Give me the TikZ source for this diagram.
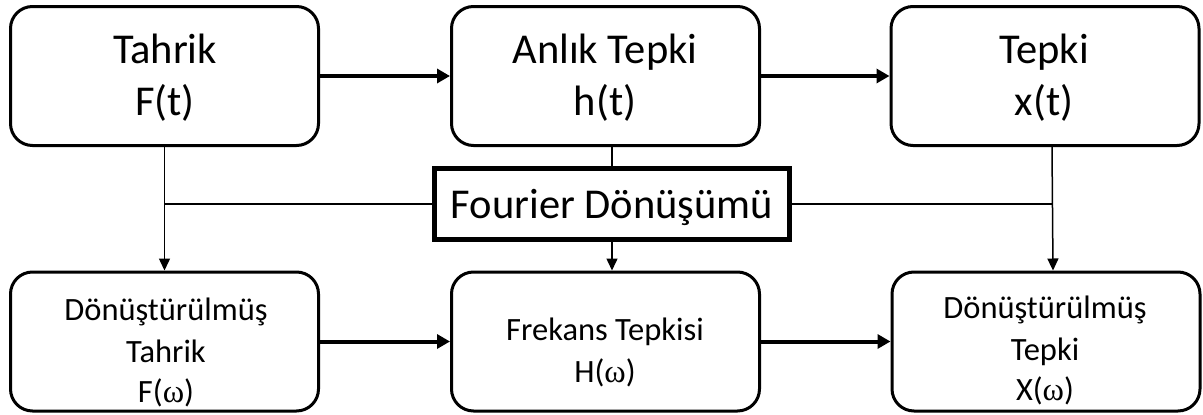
\documentclass[tikz,border=0pt]{standalone}
\usepackage{fontspec}
\setmainfont{Carlito}
\newfontfamily\omegafont{Liberation Serif}
\usetikzlibrary{arrows.meta}
\newcommand{\om}{{\omegafont\char"03C9}}
\begin{document}
\begin{tikzpicture}[x=1pt,y=-1pt,
  box/.style={draw, line width=3pt, rounded corners=22pt,
    minimum width=308pt, minimum height=139pt, inner sep=0pt},
  fbox/.style={draw, line width=5pt, minimum width=355pt,
    minimum height=71pt, inner sep=0pt},
  big/.style={font=\fontsize{42.5}{50}\selectfont, anchor=base, inner sep=0pt},
  small/.style={font=\fontsize{32.5}{39}\selectfont, anchor=base, inner sep=0pt},
  flow/.style={line width=4pt, -{Triangle[length=13pt,width=14pt]}},
  link/.style={line width=1.5pt},
  linkarrow/.style={line width=1.5pt, -{Triangle[length=12pt,width=11pt]}}]

  \useasboundingbox (0,0) rectangle (1203,415);

  % time-domain boxes
  \node[box] (b1) at (164.5,76) {};
  \node[box] (b2) at (605.5,76) {};
  \node[box] (b3) at (1045,76) {};
  % frequency-domain boxes
  \node[box] (b4) at (164.5,341.5) {};
  \node[box] (b5) at (605.5,341.5) {};
  \node[box] (b6) at (1046,341.5) {};
  % transform box
  \node[fbox] (F) at (612,204) {};

  % labels
  \node[big] (t1a) at (165,63) {Tahrik};
  \node[big] (t1b) at (165,115) {F(t)};
  \node[big] (t2a) at (605,63) {Anlık Tepki};
  \node[big] (t2b) at (605,115) {h(t)};
  \node[big] (t3a) at (1044,63) {Tepki};
  \node[big] (t3b) at (1044,115) {x(t)};
  \node[big] (tF) at (612,218) {Fourier Dönüşümü};
  \node[small] (t4a) at (166,320) {Dönüştürülmüş};
  \node[small] (t4b) at (166,362) {Tahrik};
  \node[small] (t4c) at (166,402) {F(\om)};
  \node[small] (t5a) at (605,340) {Frekans Tepkisi};
  \node[small] (t5b) at (605,382) {H(\om)};
  \node[small] (t6a) at (1045,318) {Dönüştürülmüş};
  \node[small] (t6b) at (1045,360) {Tepki};
  \node[small] (t6c) at (1045,400) {X(\om)};

  % signal flow
  \draw[flow] (b1) -- (b2);
  \draw[flow] (b2) -- (b3);
  \draw[flow] (b4) -- (b5);
  \draw[flow] (b5) -- (b6);

  % transform connections
  \coordinate (jl) at (b1.south |- F.west);
  \coordinate (r3) at ([xshift=7pt]b3.south);
  \coordinate (r6) at ([xshift=7pt]b6.north);
  \coordinate (jr) at (r3 |- F.east);
  \coordinate (m2) at ([xshift=6.5pt]b2.south);
  \coordinate (m5) at ([xshift=6.5pt]b5.north);

  \draw[linkarrow] (b1.south) -- (b4.north);
  \draw[link] (jl) -- (F.west);
  \draw[link] (F.east) -- (jr);
  \draw[linkarrow] (r3) -- (r6);
  \draw[link] (m2) -- (F.north -| m2);
  \draw[linkarrow] (F.south -| m5) -- (m5);
\end{tikzpicture}
\end{document}
